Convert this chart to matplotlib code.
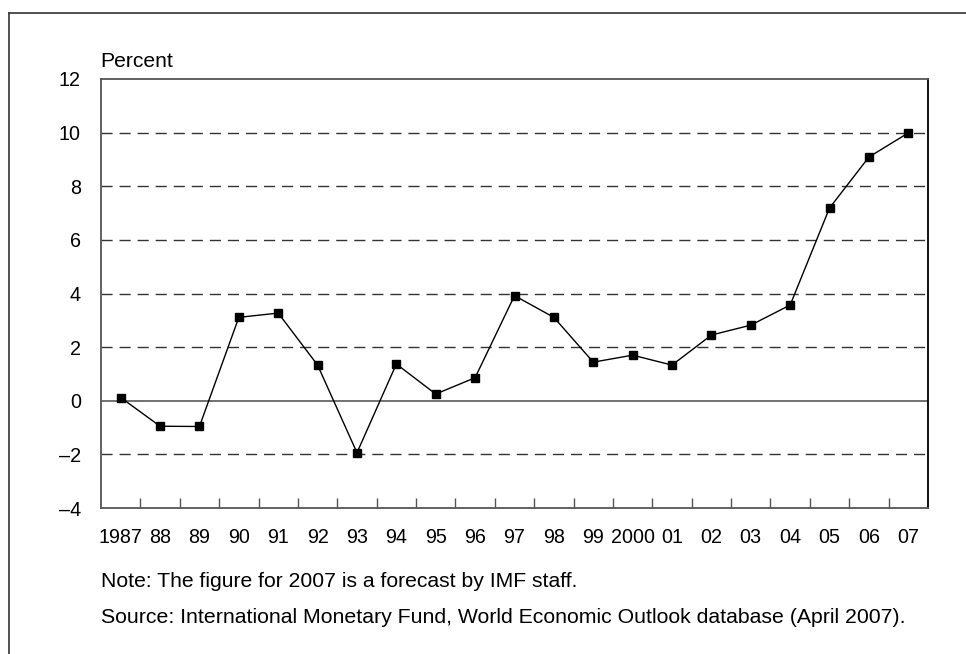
import matplotlib
matplotlib.use("Agg")
import matplotlib.pyplot as plt
from matplotlib.lines import Line2D
import numpy as np

plt.rcParams['font.family'] = ['Liberation Sans', 'DejaVu Sans']

years = ["1987", "88", "89", "90", "91", "92", "93", "94", "95", "96", "97",
         "98", "99", "2000", "01", "02", "03", "04", "05", "06", "07"]
values = [0.12, -0.95, -0.96, 3.11, 3.27, 1.33, -1.94, 1.37, 0.25, 0.86, 3.92,
          3.11, 1.44, 1.70, 1.33, 2.45, 2.82, 3.57, 7.19, 9.09, 9.99]
yticks = [-4, -2, 0, 2, 4, 6, 8, 10, 12]
note_text = "Note: The figure for 2007 is a forecast by IMF staff."
source_text = "Source: International Monetary Fund, World Economic Outlook database (April 2007)."
ylabel_text = "Percent"

W, H = 966, 654
fig = plt.figure(figsize=(W / 100, H / 100), dpi=100)
ax = fig.add_axes([101 / W, (H - 508) / H, (928 - 101) / W, (508 - 79) / H])

x = np.arange(len(years))
ax.set_xlim(-0.5, len(years) - 0.5)
ax.set_ylim(-4, 12)

for t in yticks:
    if t in (-4, 12):
        continue
    if t == 0:
        ax.axhline(t, color='#666666', lw=1.3, zorder=1)
    else:
        ax.axhline(t, color='#333333', lw=1.0, linestyle=(0, (8, 5)), zorder=1)

ax.plot(x, values, color='black', lw=1.0, marker='s', markersize=6,
        markerfacecolor='black', markeredgecolor='black', zorder=3)

ax.set_yticks(yticks)
ax.set_yticklabels([f"{t}".replace('-', '\u2013') for t in yticks])
ax.tick_params(axis='y', length=0, pad=14.4, labelsize=14.2)

ax.set_xticks(x)
ax.set_xticklabels(years)
ax.tick_params(axis='x', which='major', length=0, pad=14.5, labelsize=14.2)
ax.set_xticks(np.arange(0.5, len(years) - 1, 1.0), minor=True)
ax.tick_params(axis='x', which='minor', direction='in', length=7,
               color='#555555', width=1)

for s in ['left', 'bottom', 'top']:
    ax.spines[s].set_color('#555555')
    ax.spines[s].set_linewidth(1.3)
ax.spines['right'].set_color('black')
ax.spines['right'].set_linewidth(1.3)

fig.text(100 / W, 1 - 67 / H, ylabel_text, fontsize=15.2, ha='left', va='baseline')
fig.text(101 / W, 1 - 587 / H, note_text, fontsize=15.2, ha='left', va='baseline')
fig.text(101 / W, 1 - 623 / H, source_text, fontsize=15.3, ha='left', va='baseline')

# outer partial frame
fig.add_artist(Line2D([9 / W, 9 / W], [0, 1 - 13 / H], color='#333333', lw=1.2,
                      transform=fig.transFigure))
fig.add_artist(Line2D([9 / W, 1], [1 - 13 / H, 1 - 13 / H], color='#333333', lw=1.2,
                      transform=fig.transFigure))

fig.savefig("out.png", dpi=100)
